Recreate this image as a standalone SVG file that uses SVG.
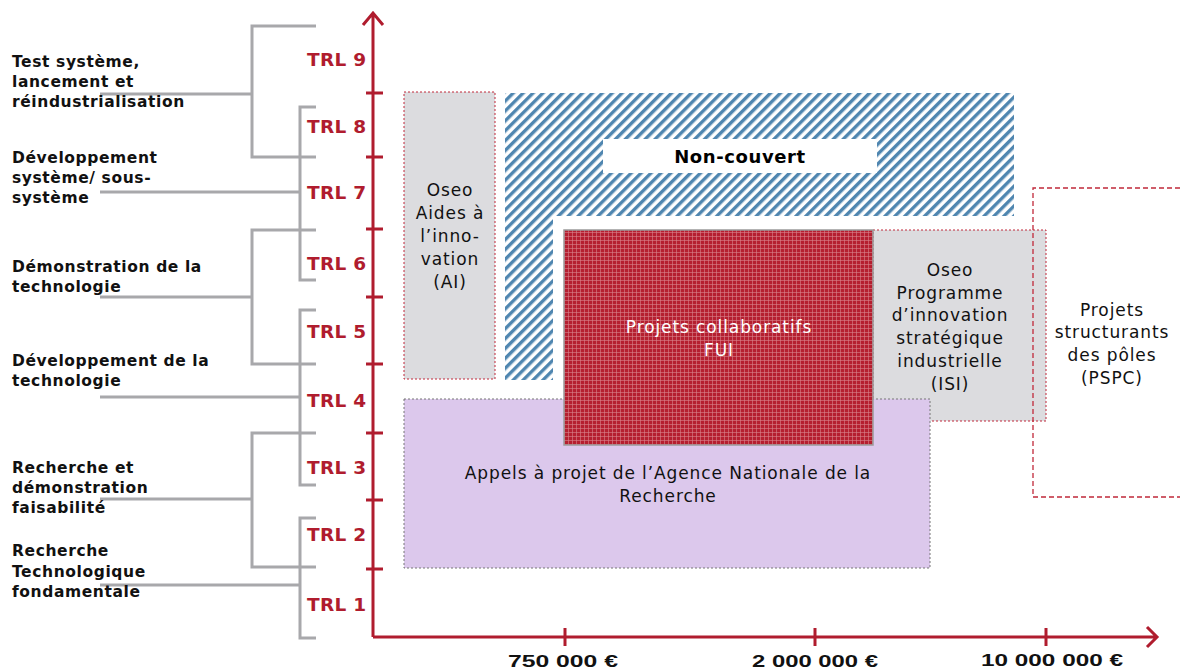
<svg xmlns="http://www.w3.org/2000/svg" width="1180" height="672" viewBox="0 0 1180 672">
<defs>
<pattern id="hatch" patternUnits="userSpaceOnUse" width="7" height="7" patternTransform="rotate(45)">
<rect width="7" height="7" fill="#ffffff"/>
<rect x="0" y="0" width="3.4" height="7" fill="#4f86b0"/>
</pattern>
<pattern id="plaid" patternUnits="userSpaceOnUse" width="4" height="4">
<rect width="4" height="4" fill="#b51f30"/>
<rect x="0" y="0" width="4" height="1" fill="#d9838c" opacity="0.6"/>
<rect x="0" y="0" width="1" height="4" fill="#d9838c" opacity="0.6"/>
</pattern>
<style>
.br{fill:none;stroke:#a8a8ab;stroke-width:3}
.ax{fill:none;stroke:#b01c2e;stroke-width:3}
.lbl{font-family:"DejaVu Sans",Verdana,sans-serif;font-weight:bold;font-size:15.5px;letter-spacing:0.6px;fill:#111}
.trl{font-family:"DejaVu Sans",Verdana,sans-serif;font-weight:bold;font-size:18.5px;letter-spacing:0.3px;fill:#b01c2e}
.box{font-family:"DejaVu Sans",Verdana,sans-serif;font-size:17px;letter-spacing:0.9px;fill:#111;text-anchor:middle}
.money{font-family:"Liberation Sans",Arial,sans-serif;font-weight:bold;font-size:17px;fill:#111;text-anchor:middle}
</style>
</defs>
<rect width="1180" height="672" fill="#ffffff"/>

<g id="noncouvert">
<rect x="505" y="93" width="509" height="287" fill="url(#hatch)"/>
<rect x="553" y="216" width="461" height="164" fill="#ffffff"/>
<rect x="603" y="139" width="274" height="34" fill="#ffffff"/>
<text x="740" y="163" text-anchor="middle" style="font-family:'DejaVu Sans',Verdana,sans-serif;font-weight:bold;font-size:18px;letter-spacing:0.6px;fill:#000">Non-couvert</text>
</g>

<g id="oseo-ai">
<rect x="404" y="92" width="91" height="287" fill="#dcdcdf" stroke="#c0283a" stroke-width="1" stroke-dasharray="2,2"/>
<text class="box"><tspan x="450" y="196">Oseo</tspan><tspan x="450" y="219">Aides à</tspan><tspan x="450" y="242">l’inno-</tspan><tspan x="450" y="265">vation</tspan><tspan x="450" y="288">(AI)</tspan></text>
</g>

<g id="oseo-isi">
<rect x="873" y="230" width="173" height="191" fill="#dcdcdf" stroke="#c0283a" stroke-width="1" stroke-dasharray="2,2"/>
<text class="box"><tspan x="950" y="276">Oseo</tspan><tspan x="950" y="299">Programme</tspan><tspan x="950" y="321">d’innovation</tspan><tspan x="950" y="344">stratégique</tspan><tspan x="950" y="367">industrielle</tspan><tspan x="950" y="390">(ISI)</tspan></text>
</g>

<g id="anr">
<rect x="404" y="399" width="526" height="169" fill="#dcc8ec" stroke="#777" stroke-width="1" stroke-dasharray="2,2"/>
<text class="box"><tspan x="668" y="479">Appels à projet de l’Agence Nationale de la</tspan><tspan x="668" y="502">Recherche</tspan></text>
</g>

<g id="fui">
<rect x="564" y="230" width="309" height="215" fill="url(#plaid)" stroke="#9a9a9a" stroke-width="1.5"/>
<text class="box" style="fill:#ffffff"><tspan x="719" y="333">Projets collaboratifs</tspan><tspan x="719" y="356">FUI</tspan></text>
</g>

<g id="pspc">
<path d="M1180,188 H1033 V497 H1180" fill="none" stroke="#c0283a" stroke-width="1.3" stroke-dasharray="5,3"/>
<text class="box"><tspan x="1112" y="316">Projets</tspan><tspan x="1112" y="338">structurants</tspan><tspan x="1112" y="361">des pôles</tspan><tspan x="1112" y="384">(PSPC)</tspan></text>
</g>

<g id="connectors">
<path class="br" d="M316,26 H252 V157 H316 M252,94 H100"/>
<path class="br" d="M316,107 H300 V280 H316 M300,192 H100"/>
<path class="br" d="M316,230 H252 V364 H316 M252,297 H100"/>
<path class="br" d="M316,310 H300 V485 H316 M300,397 H100"/>
<path class="br" d="M316,433 H252 V567 H316 M252,499 H100"/>
<path class="br" d="M316,518 H300 V638 H316 M300,585 H100"/>
</g>

<g id="axes">
<path class="ax" d="M373,637 V13 M363,25 L373,13 L383,25"/>
<path class="ax" d="M373,637 H1157 M1147,627 L1157,637 L1147,647"/>
<path class="ax" d="M366,93 H383 M366,157 H383 M366,229 H383 M366,297 H383 M366,364 H383 M366,433 H383 M366,500 H383 M366,569 H383"/>
<path class="ax" d="M565,628 V646 M815,628 V646 M1046,628 V646"/>
</g>

<g id="trl-labels">
<text class="trl" x="307" y="66">TRL 9</text>
<text class="trl" x="307" y="133">TRL 8</text>
<text class="trl" x="307" y="199">TRL 7</text>
<text class="trl" x="307" y="270">TRL 6</text>
<text class="trl" x="307" y="338">TRL 5</text>
<text class="trl" x="307" y="407">TRL 4</text>
<text class="trl" x="307" y="474">TRL 3</text>
<text class="trl" x="307" y="541">TRL 2</text>
<text class="trl" x="307" y="611">TRL 1</text>
</g>

<g id="phase-labels">
<text class="lbl"><tspan x="12" y="67">Test système,</tspan><tspan x="12" y="87">lancement et</tspan><tspan x="12" y="107">réindustrialisation</tspan></text>
<text class="lbl"><tspan x="12" y="163">Développement</tspan><tspan x="12" y="183">système/ sous-</tspan><tspan x="12" y="203">système</tspan></text>
<text class="lbl"><tspan x="12" y="272">Démonstration de la</tspan><tspan x="12" y="292">technologie</tspan></text>
<text class="lbl"><tspan x="12" y="366">Développement de la</tspan><tspan x="12" y="386">technologie</tspan></text>
<text class="lbl"><tspan x="12" y="473">Recherche et</tspan><tspan x="12" y="493">démonstration</tspan><tspan x="12" y="513">faisabilité</tspan></text>
<text class="lbl"><tspan x="12" y="556">Recherche</tspan><tspan x="12" y="577">Technologique</tspan><tspan x="12" y="597">fondamentale</tspan></text>
</g>

<g id="money-labels">
<text class="money" x="563" y="667" textLength="110" lengthAdjust="spacingAndGlyphs">750 000 €</text>
<text class="money" x="815" y="667" textLength="126" lengthAdjust="spacingAndGlyphs">2 000 000 €</text>
<text class="money" x="1052" y="666" textLength="142" lengthAdjust="spacingAndGlyphs">10 000 000 €</text>
</g>
</svg>
